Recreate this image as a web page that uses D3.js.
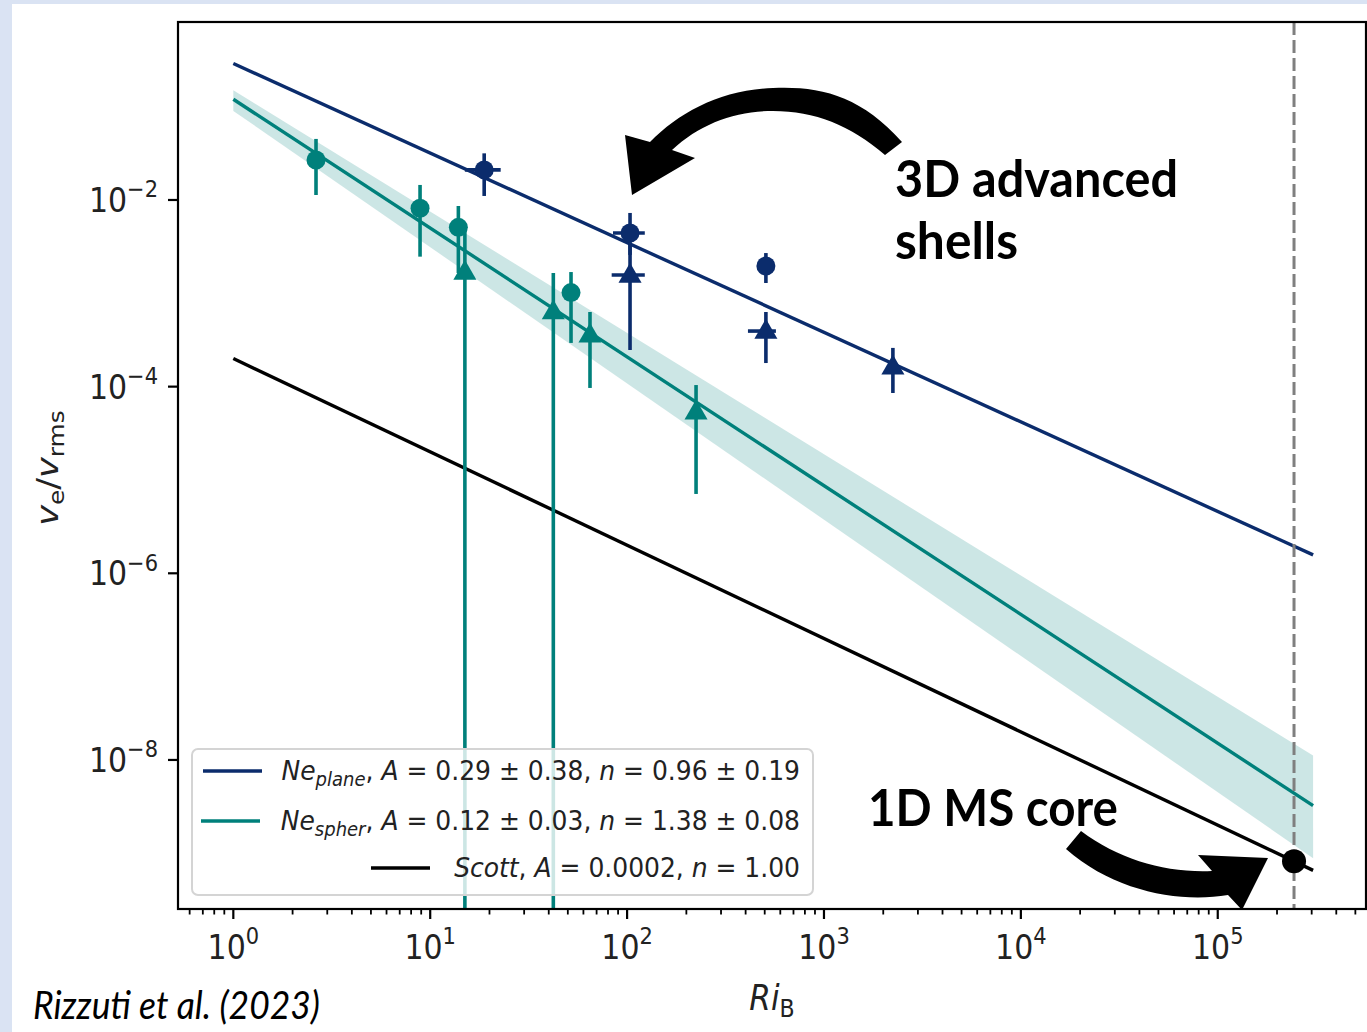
<!DOCTYPE html>
<html>
<head>
<meta charset="utf-8">
<script src="https://cdn.jsdelivr.net/npm/d3@7"></script>
<style>
  html, body { margin: 0; padding: 0; background: #dae3f3; }
  svg { display: block; }
</style>
</head>
<body>
<div id="chart"></div>
<script>
// Fit parameters (from legend)
const fitKeys = ["plane", "spher", "scott"];
const fitA = [0.29, 0.12, 0.0002];
const fitN = [0.96, 1.38, 1.00];
const fitDA = [0.38, 0.03, 0];
const fitDN = [0.19, 0.08, 0];
const fitColors = ["#0b2c6c", "#00807b", "#000000"];
const fitRange = [1, 3.05e5];

// Ne_spher points (circles)
const spherCircRi = [2.63, 8.88, 13.9, 51.9];
const spherCircV = [0.0268, 8.15e-3, 5.09e-3, 1.017e-3];
const spherCircLo = [0.0113, 2.47e-3, 1.65e-3, 2.94e-4];
const spherCircHi = [0.0451, 0.01449, 8.62e-3, 1.69e-3];

// Ne_spher points (triangles), 0 = error bar below zero
const spherTriRi = [15.0, 42.2, 64.8, 224];
const spherTriV = [1.69e-3, 6.35e-4, 3.58e-4, 5.36e-5];
const spherTriLo = [0, 0, 9.68e-5, 7.08e-6];
const spherTriHi = [5.01e-3, 1.65e-3, 6.31e-4, 1.04e-4];

// Ne_plane points (circles)
const planeCircRi = [18.8, 103.5, 507];
const planeCircV = [0.0210, 4.43e-3, 1.96e-3];
const planeCircLo = [0.01104, 2.58e-3, 1.29e-3];
const planeCircHi = [0.0316, 7.26e-3, 2.70e-3];
const planeCircRiLo = [15.0, 84.8, 507];
const planeCircRiHi = [22.8, 123, 507];

// Ne_plane points (triangles)
const planeTriRi = [103.5, 507, 2239];
const planeTriV = [1.57e-3, 3.94e-4, 1.63e-4];
const planeTriLo = [2.47e-4, 1.79e-4, 8.55e-5];
const planeTriHi = [3.30e-3, 6.31e-4, 2.60e-4];
const planeTriRiLo = [83.5, 411, 2239];
const planeTriRiHi = [123, 570, 2239];

// 1D MS core
const coreRi = 2.44e5;
const coreV = 8.2e-10;

// Ticks
const xMajor = [1, 10, 100, 1e3, 1e4, 1e5];
const xMajorExp = ["0", "1", "2", "3", "4", "5"];
const yMajor = [1e-2, 1e-4, 1e-6, 1e-8];
const yMajorExp = ["−2", "−4", "−6", "−8"];

// Legend labels
const legendLabels = [
  [{ t: "Ne", i: 1 }, { t: "plane", i: 1, s: 1 }, { t: ", " }, { t: "A", i: 1 }, { t: " = 0.29 ± 0.38, " }, { t: "n", i: 1 }, { t: " = 0.96 ± 0.19" }],
  [{ t: "Ne", i: 1 }, { t: "spher", i: 1, s: 1 }, { t: ", " }, { t: "A", i: 1 }, { t: " = 0.12 ± 0.03, " }, { t: "n", i: 1 }, { t: " = 1.38 ± 0.08" }],
  [{ t: "Scott", i: 1 }, { t: ", " }, { t: "A", i: 1 }, { t: " = 0.0002, " }, { t: "n", i: 1 }, { t: " = 1.00" }]
];

// Dimensions
const W = 1367, H = 1032;
const plot = { left: 178, right: 1366, top: 22, bottom: 909 };
const teal = fitColors[1], navy = fitColors[0];

const svg = d3.select("#chart").append("svg")
  .attr("width", W).attr("height", H)
  .style("font-family", "'DejaVu Sans', sans-serif");

// Background panel
svg.append("rect").attr("width", W).attr("height", H).attr("fill", "#dae3f3");
svg.append("rect").attr("x", 12).attr("y", 4).attr("width", W - 12).attr("height", H - 4).attr("fill", "#ffffff");

// Scales (log-log)
const x = d3.scaleLog()
  .domain([Math.pow(10, -0.281), Math.pow(10, 5.753)])
  .range([plot.left, plot.right]);
const y = d3.scaleLog()
  .domain([Math.pow(10, -9.597), Math.pow(10, -0.093)])
  .range([plot.bottom, plot.top]);
const yc = (v) => (v <= 0 ? plot.bottom : Math.max(plot.top, Math.min(plot.bottom, y(v))));

svg.append("clipPath").attr("id", "clip")
  .append("rect").attr("x", plot.left).attr("y", plot.top)
  .attr("width", plot.right - plot.left).attr("height", plot.bottom - plot.top);

const g = svg.append("g").attr("clip-path", "url(#clip)");

// Uncertainty band for Ne_spher
const bandPts = fitRange.map((r) => ({
  r,
  lo: (fitA[1] - fitDA[1]) * Math.pow(r, -(fitN[1] + fitDN[1])),
  hi: (fitA[1] + fitDA[1]) * Math.pow(r, -(fitN[1] - fitDN[1]))
}));
g.append("path")
  .datum(bandPts)
  .attr("d", d3.area().x((d) => x(d.r)).y0((d) => y(d.lo)).y1((d) => y(d.hi)))
  .attr("fill", teal).attr("fill-opacity", 0.2);

// Fit lines
fitKeys.forEach((k, i) => {
  const pts = fitRange.map((r) => [r, fitA[i] * Math.pow(r, -fitN[i])]);
  g.append("path")
    .datum(pts)
    .attr("d", d3.line().x((d) => x(d[0])).y((d) => y(d[1])))
    .attr("fill", "none").attr("stroke", fitColors[i]).attr("stroke-width", 3.4);
});

// Vertical dashed line at the MS core
g.append("line")
  .attr("x1", x(coreRi)).attr("x2", x(coreRi))
  .attr("y1", plot.top).attr("y2", plot.bottom)
  .attr("stroke", "#7f7f7f").attr("stroke-width", 3)
  .attr("stroke-dasharray", "13,5");

// Error bars + markers
function drawSet(ri, v, lo, hi, riLo, riHi, color, shape) {
  const data = ri.map((r, i) => ({ r, v: v[i], lo: lo[i], hi: hi[i], rl: riLo ? riLo[i] : r, rh: riHi ? riHi[i] : r }));
  const grp = g.append("g");
  grp.selectAll(".ev").data(data).join("line")
    .attr("x1", (d) => x(d.r)).attr("x2", (d) => x(d.r))
    .attr("y1", (d) => yc(d.lo)).attr("y2", (d) => yc(d.hi))
    .attr("stroke", color).attr("stroke-width", 3.6);
  grp.selectAll(".eh").data(data.filter((d) => d.rl !== d.rh)).join("line")
    .attr("x1", (d) => x(d.rl)).attr("x2", (d) => x(d.rh))
    .attr("y1", (d) => y(d.v)).attr("y2", (d) => y(d.v))
    .attr("stroke", color).attr("stroke-width", 3.6);
  if (shape === "circle") {
    grp.selectAll("circle").data(data).join("circle")
      .attr("cx", (d) => x(d.r)).attr("cy", (d) => y(d.v)).attr("r", 9.5)
      .attr("fill", color);
  } else {
    grp.selectAll("path").data(data).join("path")
      .attr("transform", (d) => `translate(${x(d.r)},${y(d.v) + 1})`)
      .attr("d", d3.symbol(d3.symbolTriangle, 230)())
      .attr("fill", color);
  }
}
drawSet(spherCircRi, spherCircV, spherCircLo, spherCircHi, null, null, teal, "circle");
drawSet(spherTriRi, spherTriV, spherTriLo, spherTriHi, null, null, teal, "triangle");
drawSet(planeCircRi, planeCircV, planeCircLo, planeCircHi, planeCircRiLo, planeCircRiHi, navy, "circle");
drawSet(planeTriRi, planeTriV, planeTriLo, planeTriHi, planeTriRiLo, planeTriRiHi, navy, "triangle");

// Core dot
svg.append("circle")
  .attr("cx", x(coreRi)).attr("cy", y(coreV)).attr("r", 12)
  .attr("fill", "#000");

// Axes frame
svg.append("rect")
  .attr("x", plot.left).attr("y", plot.top)
  .attr("width", plot.right - plot.left).attr("height", plot.bottom - plot.top)
  .attr("fill", "none").attr("stroke", "#000").attr("stroke-width", 2.2);

// X ticks (major + minor)
const xMinor = [];
for (let e = -1; e <= 5; e++) {
  for (let m = 2; m <= 9; m++) {
    const v = m * Math.pow(10, e);
    if (v >= x.domain()[0] && v <= x.domain()[1]) xMinor.push(v);
  }
}
svg.append("g").selectAll("line").data(xMinor).join("line")
  .attr("x1", (d) => x(d)).attr("x2", (d) => x(d))
  .attr("y1", plot.bottom).attr("y2", plot.bottom + 5.5)
  .attr("stroke", "#000").attr("stroke-width", 1.8);
svg.append("g").selectAll("line").data(xMajor).join("line")
  .attr("x1", (d) => x(d)).attr("x2", (d) => x(d))
  .attr("y1", plot.bottom).attr("y2", plot.bottom + 10)
  .attr("stroke", "#000").attr("stroke-width", 2.2);

const tickFont = 30, tickScaleY = 1.13;
const xt = svg.append("g").selectAll("text").data(xMajor).join("text")
  .attr("transform", (d) => `translate(${x(d)},${plot.bottom + 50}) scale(1,${tickScaleY})`)
  .attr("text-anchor", "middle")
  .attr("font-size", tickFont).attr("fill", "#222");
xt.append("tspan").text("10");
xt.append("tspan").attr("dy", -13).attr("font-size", tickFont * 0.7).text((d, i) => xMajorExp[i]);

// Y ticks
svg.append("g").selectAll("line").data(yMajor).join("line")
  .attr("x1", plot.left - 10).attr("x2", plot.left)
  .attr("y1", (d) => y(d)).attr("y2", (d) => y(d))
  .attr("stroke", "#000").attr("stroke-width", 2.2);
const yt = svg.append("g").selectAll("text").data(yMajor).join("text")
  .attr("transform", (d) => `translate(${plot.left - 20},${y(d) + 12}) scale(1,${tickScaleY})`)
  .attr("text-anchor", "end")
  .attr("font-size", tickFont).attr("fill", "#222");
yt.append("tspan").text("10");
yt.append("tspan").attr("dy", -13).attr("font-size", tickFont * 0.7).text((d, i) => yMajorExp[i]);

// Axis labels
const xl = svg.append("text")
  .attr("transform", `translate(772,1010) scale(1,${tickScaleY})`)
  .attr("text-anchor", "middle").attr("font-size", 31).attr("fill", "#222");
xl.append("tspan").attr("font-style", "italic").text("Ri");
xl.append("tspan").attr("dy", 6).attr("font-size", 22).text("B");

const yl = svg.append("text")
  .attr("transform", "translate(58,468) rotate(-90) scale(1.13,1)")
  .attr("text-anchor", "middle").attr("font-size", 31).attr("fill", "#222");
yl.append("tspan").attr("font-style", "italic").text("v");
yl.append("tspan").attr("dy", 6).attr("font-size", 22).text("e");
yl.append("tspan").attr("dy", -6).text("/");
yl.append("tspan").attr("font-style", "italic").text("v");
yl.append("tspan").attr("dy", 6).attr("font-size", 22).text("rms");

// Legend
const legend = svg.append("g");
legend.append("rect")
  .attr("x", 192).attr("y", 749).attr("width", 621).attr("height", 146).attr("rx", 6)
  .attr("fill", "#fff").attr("fill-opacity", 0.8)
  .attr("stroke", "#d4d4d4").attr("stroke-width", 2);
const legendRowY = [771, 821, 868];
const legendHandleX = [[203, 262], [201, 260], [371, 430]];
legendLabels.forEach((parts, i) => {
  legend.append("line")
    .attr("x1", legendHandleX[i][0]).attr("x2", legendHandleX[i][1])
    .attr("y1", legendRowY[i]).attr("y2", legendRowY[i])
    .attr("stroke", fitColors[i]).attr("stroke-width", 3.4);
  const t = legend.append("text")
    .attr("transform", `translate(800,${legendRowY[i] + 9}) scale(1,1.08)`)
    .attr("text-anchor", "end").attr("font-size", 25).attr("fill", "#222");
  let shift = 0;
  parts.forEach((p) => {
    const ts = t.append("tspan").text(p.t);
    if (p.i) ts.attr("font-style", "italic");
    const target = p.s ? 6 : 0;
    if (target !== shift) { ts.attr("dy", target - shift); shift = target; }
    if (p.s) ts.attr("font-size", 18);
  });
});

// Annotation arrows
svg.append("path")
  .attr("d", "M902,142 C860,95 820,86 773,88 C720,90 680,112 650,142 L625,135 L632,195 L695,158 L672,150 C700,124 735,111 773,111 C815,111 850,125 885,155 Z")
  .attr("fill", "#000");
svg.append("path")
  .attr("d", "M1081,831 C1120,860 1165,873 1212,871 L1198,855 L1268,858 L1242,910 L1228,895 C1180,903 1115,892 1066,849 Z")
  .attr("fill", "#000");

// Annotation texts
const ann = svg.append("g").style("font-family", "Lato, 'Open Sans', sans-serif").attr("font-weight", "bold").attr("fill", "#000");
ann.append("text").attr("x", 895).attr("y", 197).attr("font-size", 51)
  .attr("textLength", 283).attr("lengthAdjust", "spacingAndGlyphs").text("3D advanced");
ann.append("text").attr("x", 895).attr("y", 259).attr("font-size", 51)
  .attr("textLength", 123).attr("lengthAdjust", "spacingAndGlyphs").text("shells");
ann.append("text").attr("x", 868).attr("y", 826).attr("font-size", 51)
  .attr("textLength", 250).attr("lengthAdjust", "spacingAndGlyphs").text("1D MS core");

svg.append("text")
  .attr("x", 33).attr("y", 1019)
  .style("font-family", "Lato, 'Open Sans', sans-serif")
  .attr("font-style", "italic").attr("font-size", 38).attr("fill", "#000")
  .attr("textLength", 287).attr("lengthAdjust", "spacingAndGlyphs")
  .text("Rizzuti et al. (2023)");
</script>
</body>
</html>
